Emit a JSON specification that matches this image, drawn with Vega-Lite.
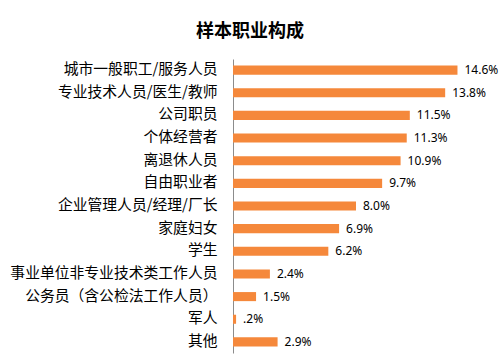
{
  "$schema": "https://vega.github.io/schema/vega-lite/v6.json",
  "width": 246,
  "height": 294,
  "autosize": "none",
  "padding": {"left": 233, "top": 59, "right": 20, "bottom": 9},
  "background": "white",
  "title": {
    "text": "样本职业构成",
    "font": "Noto Sans CJK SC",
    "fontSize": 18,
    "fontWeight": "bold",
    "color": "#000000",
    "anchor": "middle",
    "dx": -106,
    "offset": 18
  },
  "data": {
    "values": [
      {"job": "城市一般职工/服务人员", "pct": 14.6, "label": "14.6%"},
      {"job": "专业技术人员/医生/教师", "pct": 13.8, "label": "13.8%"},
      {"job": "公司职员", "pct": 11.5, "label": "11.5%"},
      {"job": "个体经营者", "pct": 11.3, "label": "11.3%"},
      {"job": "离退休人员", "pct": 10.9, "label": "10.9%"},
      {"job": "自由职业者", "pct": 9.7, "label": "9.7%"},
      {"job": "企业管理人员/经理/厂长", "pct": 8.0, "label": "8.0%"},
      {"job": "家庭妇女", "pct": 6.9, "label": "6.9%"},
      {"job": "学生", "pct": 6.2, "label": "6.2%"},
      {"job": "事业单位非专业技术类工作人员", "pct": 2.4, "label": "2.4%"},
      {"job": "公务员（含公检法工作人员）", "pct": 1.5, "label": "1.5%"},
      {"job": "军人", "pct": 0.2, "label": ".2%"},
      {"job": "其他", "pct": 2.9, "label": "2.9%"}
    ]
  },
  "encoding": {
    "y": {
      "field": "job",
      "type": "nominal",
      "sort": null,
      "scale": {"paddingInner": 0.6, "paddingOuter": 0.29},
      "axis": {
        "title": null,
        "ticks": false,
        "labelFont": "Noto Sans CJK SC",
        "labelFontSize": 14.8,
        "labelColor": "#000000",
        "labelPadding": 16,
        "labelLimit": 400,
        "domainColor": "#8c8c8c",
        "domainWidth": 1
      }
    },
    "x": {
      "field": "pct",
      "type": "quantitative",
      "scale": {"domain": [0, 16], "nice": false, "zero": true},
      "axis": null
    }
  },
  "layer": [
    {"mark": {"type": "bar", "color": "#F5883B"}},
    {
      "mark": {
        "type": "text",
        "align": "left",
        "baseline": "middle",
        "dx": 7,
        "font": "Noto Sans",
        "fontSize": 12,
        "color": "#000000"
      },
      "encoding": {"text": {"field": "label"}}
    }
  ],
  "config": {"view": {"stroke": null}}
}
